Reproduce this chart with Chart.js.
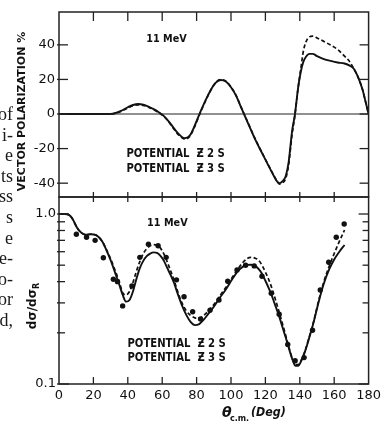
<!DOCTYPE html>
<html><head><meta charset="utf-8">
<script src="https://cdn.jsdelivr.net/npm/chart.js@4.4.1/dist/chart.umd.min.js"></script>
<style>
html,body{margin:0;padding:0;background:#fff;}
#wrap{position:relative;width:385px;height:425px;overflow:hidden;background:#fff;}
#c{position:absolute;left:0;top:0;}
.pg{position:absolute;right:372px;font-family:"Liberation Serif","DejaVu Serif",serif;font-size:18px;line-height:20px;color:#1a1a1a;white-space:nowrap;}
</style></head><body>
<div id="wrap"><canvas id="c" width="385" height="425"></canvas></div>
<script>
// ---------- data ----------
const topAngles = [0,30,33,36,40,43,46,49,52,55,58,61,64,67,70,73,76,79,82,85,88,91,94,97,100,103,106,110,114,118,122,125,127,128.3,130,131.8,133.5,135.5,137.2,139,140.5,142,143.5,145.5,147.5,150,154,158,162,166,169,171.5,174,176.5,178.5,180];
const topZ2S = [0,0,0.6,1.8,3.9,5.2,5.8,5.4,4.3,2.8,1.0,-1.2,-4.5,-8.5,-12,-14,-12.5,-6.5,0.8,7.5,13.5,18,19.7,18.8,15.5,10.5,3.5,-5.5,-14.5,-22.5,-30.3,-36,-39.3,-40,-38.8,-36,-28,-10,0,15,24,30,33,34.8,34.8,33.5,31.8,30.7,29.8,29.2,28,26,21,14,6,0];
const topZ3S = [0,0,0.5,1.5,3.4,4.8,5.3,5.0,4.0,2.6,0.8,-1.4,-4.8,-9,-12.5,-14.5,-13,-7,0.3,7.2,13.3,18,19.9,19,15.7,10.7,3.7,-5.3,-14.2,-22.3,-30,-35.7,-39.2,-40.5,-39.8,-37.3,-29.5,-12,-0.5,15,25.5,36,41.5,44.6,45,44,42,39.8,37.3,33.5,30.3,26,21,14,6,0];

const botAngles = [0,3,6,8,10.5,13,15.5,18.5,21.5,23.5,25.5,27.5,30,32.5,35,37,39,41,43,45,47,49,51,53,55,57,59,61,63,65,67,69,71.5,74,76.5,79,81.5,84,87,90,93.5,97,100.5,104,107,109.5,111.5,114,116,118,120,122,124,126,128,130,132,134,136,137.5,139,141,143,145,148,151,154,157,160,163,166];
const botZ2S = [1.0,1.0,0.985,0.93,0.83,0.775,0.755,0.76,0.752,0.725,0.68,0.615,0.535,0.455,0.385,0.335,0.305,0.312,0.35,0.415,0.48,0.53,0.565,0.585,0.595,0.59,0.567,0.53,0.48,0.435,0.39,0.34,0.29,0.255,0.232,0.222,0.225,0.238,0.26,0.285,0.322,0.36,0.41,0.462,0.49,0.502,0.503,0.495,0.475,0.445,0.405,0.365,0.325,0.285,0.25,0.215,0.185,0.158,0.137,0.128,0.128,0.138,0.155,0.18,0.23,0.305,0.39,0.47,0.54,0.6,0.657];
const botZ3S = [1.0,1.0,0.985,0.93,0.83,0.775,0.755,0.76,0.752,0.725,0.68,0.62,0.545,0.47,0.40,0.345,0.334,0.35,0.395,0.46,0.525,0.585,0.625,0.65,0.66,0.655,0.63,0.58,0.52,0.46,0.405,0.35,0.3,0.27,0.253,0.245,0.243,0.252,0.27,0.293,0.33,0.37,0.42,0.475,0.52,0.548,0.556,0.55,0.535,0.5,0.455,0.41,0.36,0.31,0.265,0.225,0.19,0.16,0.138,0.13,0.13,0.139,0.156,0.182,0.232,0.31,0.4,0.49,0.585,0.69,0.805];

const expAngles = [10.1,16,21,25.8,31.6,34,37,42.4,47,52,57.6,62.3,68.3,72.7,77.7,82.3,87.8,93,98.1,103.5,108.5,113.5,118,123.4,128,133,137.3,142.5,147.4,151.9,156.8,161.2,165.8];
const expValues = [0.76,0.73,0.70,0.553,0.413,0.40,0.288,0.377,0.556,0.664,0.65,0.556,0.41,0.326,0.266,0.241,0.272,0.312,0.402,0.469,0.50,0.495,0.43,0.342,0.257,0.171,0.137,0.143,0.207,0.357,0.52,0.73,0.873];

const xTickValues = [0,20,40,60,80,100,120,140,160,180];
const topTickValues = [-40,-20,0,20,40];
const botTickValues = [0.1,0.2,0.3,0.4,0.5,0.6,0.7,0.8,0.9,1.0];
const botTickLabels = ['0.1','','','','','','','','','1.0'];
const seriesLabels = ['POTENTIAL', 'Ƶ2S', 'Ƶ3S'];
const pageLines = ['of','i-','e','ts','ss','s','e','e-','o-','or','d,'];

// ---------- page text fragments ----------
const wrap = document.getElementById('wrap');
pageLines.forEach((t,i)=>{
  const d = document.createElement('div');
  d.className='pg'; d.textContent=t;
  d.style.top = (104 + 20.6*i)+'px';
  wrap.appendChild(d);
});

const pts = (xs, ys) => xs.map((x,i)=>({x:x, y:ys[i]}));
const INK = '#111';

function txt(ctx, s, x, y, font, sx, align){
  ctx.save();
  ctx.font = font;
  ctx.textBaseline = 'middle';
  ctx.textAlign = align || 'left';
  ctx.translate(x, y);
  ctx.scale(sx, 1);
  ctx.fillText(s, 0, 0);
  ctx.restore();
}

const framePlugin = {
  id: 'frame',
  afterDraw(chart){
    const {ctx, chartArea: ca, scales} = chart;
    const x = scales.x, yT = scales.yTop, yB = scales.yBot;
    const L = ca.left, R = ca.right;
    ctx.save();
    ctx.strokeStyle = '#222';
    ctx.fillStyle = INK;
    const line = (a,b,c,d)=>{ctx.beginPath();ctx.moveTo(a,b);ctx.lineTo(c,d);ctx.stroke();};
    // frames
    ctx.lineWidth = 1.5;
    ctx.strokeRect(L, yT.top, R-L, yT.bottom-yT.top);
    ctx.strokeRect(L, yB.top, R-L, yB.bottom-yB.top);
    // zero line
    ctx.lineWidth = 1;
    const y0 = yT.getPixelForValue(0);
    line(L, y0, R, y0);
    // x ticks
    ctx.lineWidth = 1.3;
    xTickValues.forEach(v=>{
      if (v<=0 || v>=180) return;
      const px = x.getPixelForValue(v);
      line(px, yT.top, px, yT.top+9);
      line(px, yT.bottom-5, px, yT.bottom+5);
      line(px, yB.bottom-7, px, yB.bottom);
    });
    // top y ticks
    topTickValues.forEach(v=>{
      const py = yT.getPixelForValue(v);
      line(L-2, py, L+9, py);
      line(R-9, py, R, py);
    });
    // bottom log ticks
    botTickValues.forEach((v,i)=>{
      const py = yB.getPixelForValue(v);
      const len = botTickLabels[i] ? 10 : 6;
      line(L-2, py, L+len, py);
      line(R-len, py, R, py);
    });
    // annotations
    ctx.fillStyle = INK;
    txt(ctx, '11 MeV', x.getPixelForValue(62.5), yT.getPixelForValue(43.5), 'bold 11px "DejaVu Sans"', 0.88, 'center');
    txt(ctx, '11 MeV', x.getPixelForValue(63), yB.getPixelForValue(0.885), 'bold 11px "DejaVu Sans"', 0.88, 'center');
    const leg = (xv, y1, y2)=>{
      const x0 = x.getPixelForValue(xv);
      [y1,y2].forEach((yy,k)=>{
        txt(ctx, seriesLabels[0], x0, yy, 'bold 12px "DejaVu Sans"', 0.84);
        const s = seriesLabels[k+1];
        for (let j=0;j<s.length;j++) txt(ctx, s[j], x0+70+j*10.5, yy, 'bold 12px "DejaVu Sans"', 0.84);
      });
    };
    leg(39.2, yT.getPixelForValue(-23.1), yT.getPixelForValue(-31.8));
    leg(39.8, yB.getPixelForValue(0.172), yB.getPixelForValue(0.142));
    // axis titles
    ctx.save();
    ctx.translate(22, (yT.top+yT.bottom)/2 + 7);
    ctx.rotate(-Math.PI/2);
    txt(ctx, 'VECTOR POLARIZATION %', 0, 0, 'bold 11px "DejaVu Sans"', 1, 'center');
    ctx.restore();
    ctx.save();
    ctx.translate(33, 306);
    ctx.rotate(-Math.PI/2);
    ctx.font = 'bold 12px "DejaVu Sans"';
    const main = 'dσ/dσ';
    const w1 = ctx.measureText(main).width;
    ctx.font = 'bold 8px "DejaVu Sans"';
    const w2 = ctx.measureText('R').width;
    const sx0 = -(w1+w2)/2;
    txt(ctx, main, sx0, 0, 'bold 12px "DejaVu Sans"', 1, 'left');
    txt(ctx, 'R', sx0+w1, 4, 'bold 8px "DejaVu Sans"', 1, 'left');
    ctx.restore();
    // x title
    txt(ctx, 'θ', 222, 413, 'italic bold 14px "DejaVu Sans"', 1, 'left');
    txt(ctx, 'c.m.', 230, 419, 'bold 8px "DejaVu Sans"', 1, 'left');
    txt(ctx, '(Deg)', 251, 413, 'italic bold 13px "DejaVu Sans"', 0.85, 'left');
    ctx.restore();
  }
};

const tickFont = {family:'DejaVu Sans', size:13};
new Chart(document.getElementById('c'), {
  type: 'line',
  data: { datasets: [
    {label:'POTENTIAL Ƶ2S', data: pts(topAngles, topZ2S), xAxisID:'x', yAxisID:'yTop', borderColor:INK, borderWidth:1.9, pointRadius:0, cubicInterpolationMode:'monotone', fill:false},
    {label:'POTENTIAL Ƶ3S', data: pts(topAngles, topZ3S), xAxisID:'x', yAxisID:'yTop', borderColor:INK, borderWidth:1.7, borderDash:[4,2.5], pointRadius:0, cubicInterpolationMode:'monotone', fill:false},
    {label:'POTENTIAL Ƶ2S', data: pts(botAngles, botZ2S), xAxisID:'x', yAxisID:'yBot', borderColor:INK, borderWidth:1.9, pointRadius:0, cubicInterpolationMode:'monotone', fill:false},
    {label:'POTENTIAL Ƶ3S', data: pts(botAngles, botZ3S), xAxisID:'x', yAxisID:'yBot', borderColor:INK, borderWidth:1.7, borderDash:[4,2.5], pointRadius:0, cubicInterpolationMode:'monotone', fill:false},
    {label:'Experiment', data: pts(expAngles, expValues), xAxisID:'x', yAxisID:'yBot', showLine:false, pointRadius:2.7, pointBackgroundColor:INK, pointBorderWidth:0}
  ]},
  options: {
    responsive:false, animation:false, devicePixelRatio:1,
    layout:{padding:{left:0, right:14, top:12, bottom:0}},
    plugins:{legend:{display:false}, tooltip:{enabled:false}},
    scales:{
      x:{type:'linear', min:0, max:180, position:'bottom',
         afterBuildTicks(s){ s.ticks = xTickValues.map(v=>({value:v})); },
         ticks:{color:INK, font:tickFont, padding:4, maxRotation:0, autoSkip:false},
         grid:{display:false, drawTicks:false}, border:{display:false},
         afterFit(s){ s.height = 41; }},
      yTop:{type:'linear', position:'left', stack:'v', stackWeight:185, weight:1, min:-48, max:59,
         afterBuildTicks(s){ s.ticks = topTickValues.map(v=>({value:v})); },
         ticks:{color:INK, font:tickFont, padding:4, autoSkip:false},
         grid:{display:false, drawTicks:false}, border:{display:false},
         afterFit(s){ s.width = 59; }},
      yBot:{type:'logarithmic', position:'left', stack:'v', stackWeight:187, weight:0, min:0.1, max:1.259,
         afterBuildTicks(s){ s.ticks = botTickValues.map(v=>({value:v})); },
         ticks:{color:INK, font:tickFont, padding:3, autoSkip:false,
           callback:(v,i)=> botTickLabels[i] },
         grid:{display:false, drawTicks:false}, border:{display:false},
         afterFit(s){ s.width = 59; }}
    }
  },
  plugins:[framePlugin]
});
</script>
</body></html>
